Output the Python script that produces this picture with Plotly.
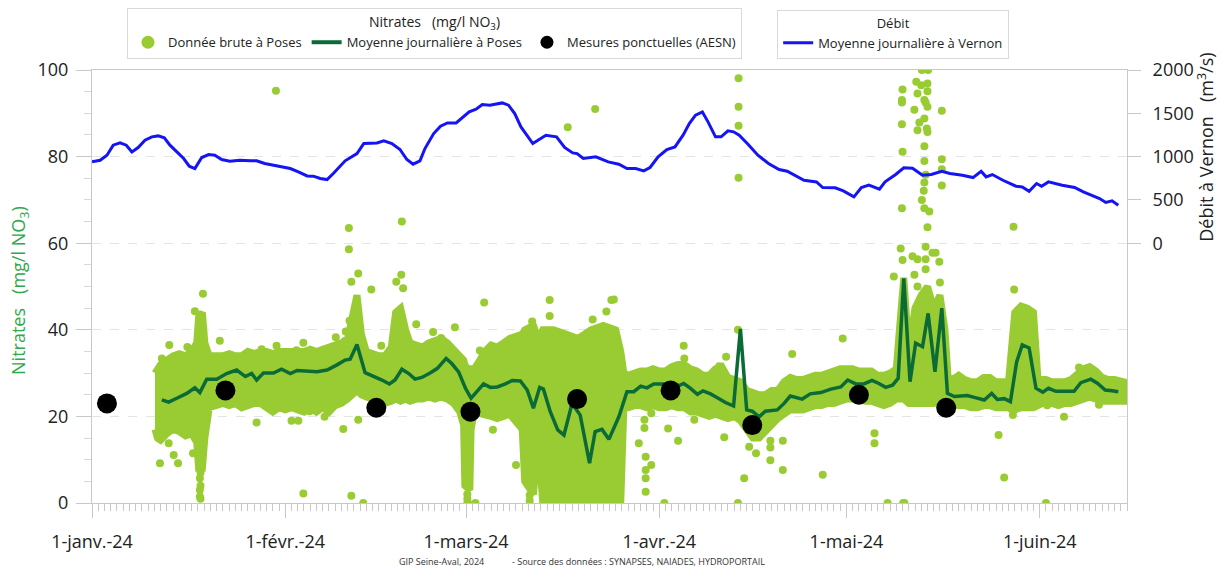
import numpy as np
import pandas as pd
import plotly.graph_objects as go

BASE = pd.Timestamp("2024-01-01")

# ---------------- data (x in days since 1 Jan 2024) -------------
# Daily mean nitrate at Poses
mean_day = [11.2, 12.3, 13.6, 15.2, 16.5, 17.3, 18.4, 20.0, 21.6, 23.2, 24.6, 25.6, 26.4, 27.5, 29.1, 30.4,
            31.8, 32.9, 36.1, 37.7, 39.3, 40.6, 41.4, 42.5, 43.8, 45.2, 46.5, 47.7, 48.6, 49.7, 50.8, 51.8,
            52.9, 54.3, 55.4, 56.8, 57.7, 58.8, 59.9, 60.8, 61.7, 62.8, 63.9, 65.0, 66.3, 67.4, 68.7, 69.8,
            70.8, 71.8, 72.4, 73.5, 74.7, 75.7, 77.0, 78.3, 79.8, 80.7, 81.8, 82.9, 84.5, 85.8, 86.9, 88.0,
            89.0, 90.1, 91.7, 93.0, 93.8, 94.9, 95.9, 97.1, 98.0, 99.2, 100.3, 101.6, 102.9, 104.0, 105.0,
            105.9, 107.0, 108.0, 109.9, 111.0, 112.0, 113.9, 115.2, 116.9, 118.5, 120.1, 121.2, 122.5, 123.8,
            125.1, 126.2, 127.3, 128.4, 129.3, 130.2, 131.2, 132.1, 133.2, 134.1, 135.2, 136.3, 137.2, 138.3,
            139.3, 140.4, 141.5, 143.1, 144.3, 145.2, 146.3, 147.3, 148.3, 149.2, 150.3, 151.4, 152.5, 153.4,
            154.6, 156.2, 157.5, 158.6, 160.2, 161.3, 162.5, 163.6, 164.6]
mean_val = [23.8, 23.3, 24.2, 25.3, 26.6, 25.5, 28.6, 28.6, 29.9, 30.7, 29.2, 29.9, 28.4, 30.0, 30.0, 30.9,
            29.9, 30.6, 30.3, 30.7, 31.9, 33.0, 33.2, 36.6, 30.1, 29.3, 28.4, 27.5, 28.4, 30.9, 29.9, 28.6,
            29.0, 30.1, 31.1, 33.4, 32.2, 30.3, 26.5, 24.2, 25.7, 27.5, 26.7, 26.8, 27.5, 28.3, 28.2, 26.1,
            21.9, 26.7, 26.3, 21.1, 16.9, 15.7, 23.0, 20.3, 9.2, 16.5, 17.0, 14.7, 19.9, 25.7, 25.7, 27.0,
            26.6, 27.5, 27.5, 27.3, 26.9, 27.6, 26.6, 25.1, 25.9, 25.2, 24.3, 23.2, 22.4, 40.2, 21.5,
            21.2, 19.9, 21.2, 21.5, 23.0, 24.7, 24.0, 25.2, 25.5, 26.3, 26.8, 28.4, 27.5, 27.5,
            28.3, 27.6, 26.7, 27.2, 28.8, 51.9, 28.0, 36.9, 36.1, 43.8, 30.3, 45.0, 25.3, 24.6,
            24.6, 24.8, 24.4, 23.8, 25.3, 23.9, 24.1, 23.4, 32.6, 36.5, 35.8, 26.5, 25.6, 26.5,
            25.8, 25.7, 25.8, 27.8, 28.6, 27.6, 26.1, 25.9, 25.7]

# Raw data at Poses: dense envelope (low / high) and isolated points
band_day = [10.1, 10.5, 11, 12, 13, 14, 15, 16, 16.8, 17.1, 17.7, 18.1, 18.8, 20, 21, 22, 23, 24, 25, 26, 27,
            28, 29, 30, 31, 32, 33, 34, 35, 36, 37, 38, 39, 40, 41, 41.8, 42.5, 43.2, 44, 45, 46, 47, 48,
            48.7, 49.5, 50.3, 51, 52, 53, 54, 55, 56, 57, 58, 59, 59.6, 59.8, 60.6, 60.8, 61.3, 62, 63, 64,
            65, 66, 67, 68, 69, 69.4, 70.8, 71.3, 71.9, 72.3, 74, 76, 78, 80, 82, 84, 84.8, 85.3, 86, 87,
            88, 89, 90, 91, 92, 93, 94, 95, 96, 97, 98, 99, 100, 101, 102, 103, 104, 105, 106, 107, 108,
            109, 110, 111, 112, 113, 114, 115, 116, 117, 118, 119, 120, 121, 122, 123, 124, 125, 126, 127,
            128, 129, 129.5, 130.2, 131, 132, 133, 134, 135, 136, 136.8, 137.3, 138, 139, 140, 141, 142,
            143, 144, 145, 146, 147, 147.5, 148, 149, 150, 151, 151.7, 152.5, 153, 154, 155, 156, 157,
            158, 159, 160, 161, 162, 163, 164, 165.5]
band_low = [17, 15, 14.5, 16, 17, 16.5, 15.5, 16, 14, 8, 8, 15, 22, 22.5, 23, 22.5, 23, 22, 22.5, 23, 23,
            22, 21, 22, 21.5, 22, 21.5, 21, 22, 21, 22, 21, 22.5, 23, 24, 25, 26, 25, 24.5, 24, 24, 23, 23.5,
            24, 23.5, 24, 23.5, 24, 24, 24.5, 24, 24.5, 24, 23, 21, 18, 4, 3, 17, 21, 21, 20.5, 20,
            19.5, 20, 20.5, 19, 17, 5, 2, 10, 8, 0, 0, 0, 0, 0, 0, 0, 0, 22, 22, 22.5,
            22.5, 22, 22.5, 22, 22, 22.5, 22, 22, 21, 21, 20.5, 20, 20.5, 20, 19.5, 20, 19, 17, 15, 15, 16.5,
            18, 19.5, 20.5, 21.5, 21.5, 21.5, 22, 22.5, 22.5, 23, 23, 23.5, 24, 24, 24, 23.5, 23.5, 23, 22.5,
            23, 24, 24, 24, 23, 23, 23, 23, 23, 24, 24, 23, 22.5, 22.5, 22.5, 22, 22,
            22.5, 22.5, 22, 22, 22, 21.5, 21.5, 22, 22, 22, 22.5, 23, 23, 23, 22.5, 23, 23,
            23.5, 24, 24.5, 24, 23.5, 23.5, 23.5, 23.5]
band_high = [30, 31, 32, 33, 34, 34.5, 34, 35, 37, 43, 44, 37, 34, 34, 34, 34.5, 34, 34, 35, 34.5, 35,
             35, 34.5, 35, 35, 35, 35, 35, 35.5, 35, 35.5, 36, 36.5, 37, 38, 44, 48, 39, 35, 34.5, 34, 34, 36,
             44, 45, 40, 37, 36.5, 36, 37, 37.5, 38, 37, 35.5, 34, 33, 32, 30, 31, 31, 32.5, 35, 36.5,
             36, 37, 38, 38.5, 39, 40, 41, 39, 39, 40, 40, 39, 38, 40, 41, 40, 35, 30, 29.5, 30,
             30.5, 30.5, 31, 30.5, 30.5, 31.5, 32, 32, 31, 30.5, 29.5, 29.5, 31, 31.5, 29, 28.5, 28, 26, 25.5, 25, 25,
             26, 26, 28, 29, 28.5, 28.5, 29, 29.5, 29.5, 30, 30.5, 31, 31, 31, 30.5, 30.5, 30.5, 29.5, 29.5,
             30, 31, 40, 52, 35, 45, 48, 50, 45, 48, 40, 29, 28.5, 29.5, 28.5, 28, 28,
             29, 29, 28, 28, 28, 36, 44, 45.5, 45, 44, 29, 28.5, 28.5, 28, 28, 28, 28.5,
             30, 31, 31.5, 30.5, 29, 28.5, 28.5, 28]
pts_day = [11.2, 12.4, 15.3, 16.5, 17.8, 20.5, 10.9, 13.8, 12.3, 13.1, 10.8, 17.3, 17.3, 17.3, 16.2, 26.4,
           33.9, 40.3, 41.6, 41.2, 41.2, 41.6, 41.3, 39.1, 40.7, 29.6, 33.9, 32.8, 27.2, 34.9, 32.0, 33.1,
           37.3, 29.5, 49.7, 42.7, 44.8, 49.6, 48.8, 49.9, 46.4, 47.4, 52.0, 54.7, 56.0, 58.2, 62.9, 62.2,
           66.2, 73.4, 73.4, 70.6, 80.3, 82.5, 83.3, 42.7, 43.5, 64.3, 68.0, 70.2, 60.3, 61.5, 76.3, 80.7,
           83.7, 87.7, 88.6, 88.6, 88.8, 88.8, 88.8, 88.8, 89.7, 89.7, 91.8, 92.4, 94.0, 94.9, 95.0, 96.6,
           100.0, 100.6, 101.7, 101.4, 103.6, 103.6, 104.6, 105.4, 106.5, 108.8, 108.8, 108.8, 110.8, 110.8,
           112.3, 117.2, 120.4, 125.5, 125.5, 103.7, 103.7, 103.7, 103.7,
           130.0, 129.9, 129.9, 129.9, 130.0, 129.9, 129.7, 130.0, 128.6, 133.1, 134.1, 132.2, 133.0, 134.0,
           134.0, 132.4, 133.7, 133.5, 131.9, 134.0, 133.5, 132.7, 132.4, 133.9, 134.0, 133.5, 133.5, 136.3,
           136.3, 136.3, 136.3, 133.7, 133.5, 133.4, 133.1, 133.5, 134.3, 134.0, 133.7, 134.8, 135.3, 135.9,
           136.0, 131.6, 132.4, 133.7, 133.7, 131.9, 132.4, 127.6, 130.1, 130.3, 147.8, 147.9, 147.7, 145.4,
           146.3, 153.0, 155.9, 153.2, 161.5, 158.3,
           17.4, 17.4, 17.4, 60.2, 60.2, 60.2, 70.2, 70.2]
pts_val = [33.4, 36.5, 36.0, 44.3, 48.3, 37.5, 9.2, 9.2, 13.8, 11.1, 14.9, 1.5, 3.0, 5.7, 11.5, 18.6,
           2.2, 17.1, 1.7, 58.6, 63.5, 51.1, 42.1, 38.3, 39.6, 36.3, 37.0, 35.3, 35.5, 21.2, 19.0, 19.0,
           19.9, 95.2, 65.0, 53.0, 49.3, 52.7, 51.1, 49.6, 36.3, 33.0, 41.3, 39.5, 38.1, 40.6, 46.3, 35.2,
           36.0, 46.9, 43.2, 41.9, 42.4, 44.2, 46.9, 19.2, 0.0, 16.9, 8.8, 1.8, 0.0, 0.0, 86.8, 91.0,
           47.0, 13.8, 19.2, 17.3, 10.7, 7.6, 5.7, 2.6, 20.7, 8.8, 0.0, 17.2, 14.4, 36.3, 33.4, 19.2,
           30.1, 31.6, 33.8, 15.2, 40.0, 0.0, 5.7, 13.0, 11.5, 14.4, 12.8, 9.9, 14.4, 7.6,
           34.4, 6.5, 38.0, 16.1, 13.8, 98.1, 91.5, 87.1, 75.1,
           95.5, 93.1, 92.5, 87.5, 81.1, 68.1, 58.8, 56.1, 52.3, 100.0, 100.0, 97.3, 96.5, 96.9,
           95.1, 94.6, 92.5, 93.1, 90.8, 91.5, 88.8, 87.9, 86.1, 86.5, 85.7, 82.4, 79.0, 90.6,
           79.4, 77.1, 73.3, 75.8, 74.0, 72.1, 70.0, 68.1, 67.3, 63.7, 59.2, 57.8, 57.8, 55.7,
           50.9, 57.0, 56.3, 56.3, 54.0, 52.7, 50.0, 0.0, 0.0, 0.0, 63.8, 49.3, 20.3, 15.7,
           5.9, 0.0, 19.9, 22.6, 22.7, 31.3,
           7.0, 4.0, 1.0, 2.0, 1.0, 0.0, 4.0, 0.5]

# Spot measurements (AESN)
aesn_day = [2.4, 21.4, 45.6, 60.7, 77.8, 92.8, 105.9, 123.0, 137.0]
aesn_val = [23.0, 26.0, 22.0, 21.1, 24.0, 26.0, 18.0, 25.0, 22.0]

# Daily mean discharge at Vernon (m3/s)
q_day = [0, 1.3, 2.4, 3.4, 4.5, 5.5, 6.4, 7.4, 8.5, 9.6, 10.6, 11.6, 12.5, 13.6, 14.7, 15.6, 16.5, 17.6,
         18.7, 19.7, 20.8, 22.1, 23.7, 25.4, 26.4, 27.7, 29.6, 31.8, 33.1, 34.5, 35.5, 36.6, 37.7, 38.7,
         40.6, 42.5, 43.6, 45.7, 46.8, 48.1, 49.4, 50.5, 51.5, 52.6, 53.4, 54.8, 55.9, 57.0, 58.4, 59.5,
         60.5, 61.6, 62.6, 63.8, 65.8, 66.8, 67.8, 68.8, 70.7, 72.8, 74.5, 75.8, 77.1, 77.8, 78.8, 80.8,
         82.8, 84.5, 85.8, 87.2, 88.5, 89.5, 90.8, 92.2, 93.5, 94.8, 95.8, 96.8, 97.9, 98.8, 100.0, 100.9,
         102.0, 102.9, 103.8, 105.1, 106.8, 108.5, 110.2, 111.5, 112.9, 114.2, 116.2, 117.2, 119.2, 120.5,
         122.2, 123.4, 124.6, 126.3, 127.2, 128.9, 130.2, 131.6, 133.2, 134.6, 136.3, 137.6, 139.6, 141.3,
         142.6, 143.4, 144.4, 146.1, 148.2, 149.2, 150.3, 151.5, 152.3, 153.4, 155.6, 157.6, 159.0, 160.3,
         161.6, 162.6, 163.6, 164.6]
q_val = [939, 958, 1016, 1132, 1158, 1132, 1054, 1105, 1189, 1228, 1239, 1216, 1132, 1054, 978, 889, 862, 989,
         1024, 1016, 966, 947, 958, 951, 951, 920, 893, 862, 824, 777, 774, 747, 735, 805,
         951, 1035, 1151, 1158, 1182, 1151, 1082, 966, 912, 951, 1093, 1266, 1351, 1389, 1389, 1451,
         1516, 1547, 1601, 1594, 1620, 1594, 1497, 1343, 1151, 1247, 1228, 1105, 1043, 1035, 978, 997,
         939, 912, 862, 862, 835, 874, 997, 1082, 1112, 1247, 1382, 1478, 1516, 1401, 1228, 1228,
         1297, 1286, 1247, 1151, 1016, 920, 851, 831, 777, 727, 708, 643, 639, 604,
         535, 643, 670, 623, 708, 793, 870, 866, 785, 793, 831, 805, 785, 758,
         831, 766, 793, 727, 658, 650, 600, 689, 658, 708, 670, 643, 593, 554,
         516, 470, 489, 439]

month_days = [0, 31, 60, 91, 121, 152]
month_labels = ["1-janv.-24", "1-févr.-24", "1-mars-24", "1-avr.-24", "1-mai-24", "1-juin-24"]
left_ticks = [0, 20, 40, 60, 80, 100]
right_ticks = [0, 500, 1000, 1500, 2000]


def to_dates(days):
    return BASE + pd.to_timedelta(np.asarray(days, dtype=float), unit="D")


GREEN = "#99cc33"
DARK = "#0b6b37"
BLUE = "#1414f5"
FONT = "Open Sans"

fig = go.Figure()

# dense raw band
poly_x = list(to_dates(band_day)) + list(to_dates(band_day[::-1]))
poly_y = band_high + band_low[::-1]
fig.add_trace(go.Scatter(x=poly_x, y=poly_y, fill="toself", fillcolor=GREEN, mode="lines",
                         line=dict(color=GREEN, width=7), showlegend=False, hoverinfo="skip"))
# isolated raw points
fig.add_trace(go.Scatter(x=to_dates(pts_day), y=pts_val, mode="markers",
                         marker=dict(color=GREEN, size=8), showlegend=False))
# daily mean
fig.add_trace(go.Scatter(x=to_dates(mean_day), y=mean_val, mode="lines",
                         line=dict(color=DARK, width=3.5), showlegend=False))
# spot measurements
fig.add_trace(go.Scatter(x=to_dates(aesn_day), y=aesn_val, mode="markers",
                         marker=dict(color="black", size=20), showlegend=False))
# discharge
fig.add_trace(go.Scatter(x=to_dates(q_day), y=q_val, mode="lines", yaxis="y2",
                         line=dict(color=BLUE, width=3), showlegend=False))

# legend entries
fig.add_trace(go.Scatter(x=[None], y=[None], mode="markers", name="Donnée brute à Poses",
                         marker=dict(color=GREEN, size=13), legend="legend"))
fig.add_trace(go.Scatter(x=[None], y=[None], mode="lines", name="Moyenne journalière à Poses",
                         line=dict(color=DARK, width=4), legend="legend"))
fig.add_trace(go.Scatter(x=[None], y=[None], mode="markers", name="Mesures ponctuelles (AESN)",
                         marker=dict(color="black", size=13), legend="legend"))
fig.add_trace(go.Scatter(x=[None], y=[None], mode="lines", name="Moyenne journalière à Vernon",
                         line=dict(color=BLUE, width=3), legend="legend2", yaxis="y2"))

axis_line = "#c8c8c8"
fig.update_layout(
    width=1222, height=570, autosize=False,
    margin=dict(l=92, r=95, t=70, b=67, autoexpand=False),
    paper_bgcolor="white", plot_bgcolor="white",
    font=dict(family=FONT, color="#222222"),
    xaxis=dict(type="date", range=[BASE, BASE + pd.Timedelta(days=166)],
               tickmode="array", tickvals=list(to_dates(month_days)), ticktext=month_labels,
               ticks="outside", ticklen=14, tickcolor=axis_line, tickfont=dict(size=18),
               ticklabelstandoff=8, automargin=False,
               showline=True, linecolor=axis_line, mirror=True, showgrid=False, zeroline=False,
               minor=dict(ticks="outside", ticklen=7, tickcolor=axis_line, dtick=86400000,
                          tick0=BASE, showgrid=False)),
    yaxis=dict(range=[0, 100], tickmode="array", tickvals=left_ticks, ticks="outside", ticklen=15,
               tickcolor=axis_line, tickfont=dict(size=18), ticklabelstandoff=4, automargin=False,
               showgrid=True, gridcolor="#e4e4e4", griddash="dash", gridwidth=1,
               showline=True, linecolor=axis_line, mirror=True, zeroline=False,
               minor=dict(ticks="outside", ticklen=7, dtick=5, tickcolor="#d8d8d8", showgrid=False)),
    yaxis2=dict(range=[-3000, 2000], overlaying="y", side="right", tickmode="array",
                tickvals=right_ticks, ticks="outside", ticklen=13, tickcolor=axis_line,
                tickfont=dict(size=18), ticklabelstandoff=8, showgrid=False, zeroline=False,
                showline=False, automargin=False),
    legend=dict(x=0.0338, y=1.143, xanchor="left", yanchor="top", orientation="h",
                bgcolor="white", bordercolor="#d9d9d9", borderwidth=1,
                font=dict(size=13, color="#222"),
                title=dict(text="Nitrates   (mg/l NO<sub>3</sub>)", side="top center",
                           font=dict(size=14, color="#222"))),
    legend2=dict(x=0.662, y=1.1386, xanchor="left", yanchor="top", orientation="h",
                 bgcolor="white", bordercolor="#d9d9d9", borderwidth=1,
                 font=dict(size=13, color="#222"),
                 title=dict(text="Débit", side="top center", font=dict(size=13, color="#222"))),
    annotations=[
        dict(text="Nitrates   (mg/l NO<sub>3</sub>)", xref="paper", yref="paper", x=-0.0696, y=0.492,
             xanchor="center", yanchor="middle", textangle=-90, showarrow=False,
             font=dict(size=18, color="#2ea84a")),
        dict(text="Débit à Vernon   (m<sup>3</sup>/s)", xref="paper", yref="paper", x=1.076, y=0.822,
             xanchor="center", yanchor="middle", textangle=-90, showarrow=False,
             font=dict(size=18, color="#222")),
        dict(text="GIP Seine-Aval, 2024", xref="paper", yref="paper", x=0.2947, y=-0.134,
             xanchor="left", yanchor="middle", showarrow=False, font=dict(size=9, color="#333")),
        dict(text="- Source des données : SYNAPSES, NAIADES, HYDROPORTAIL", xref="paper", yref="paper",
             x=0.4039, y=-0.134, xanchor="left", yanchor="middle", showarrow=False,
             font=dict(size=9, color="#333")),
    ],
)

fig.write_html("out.html")
